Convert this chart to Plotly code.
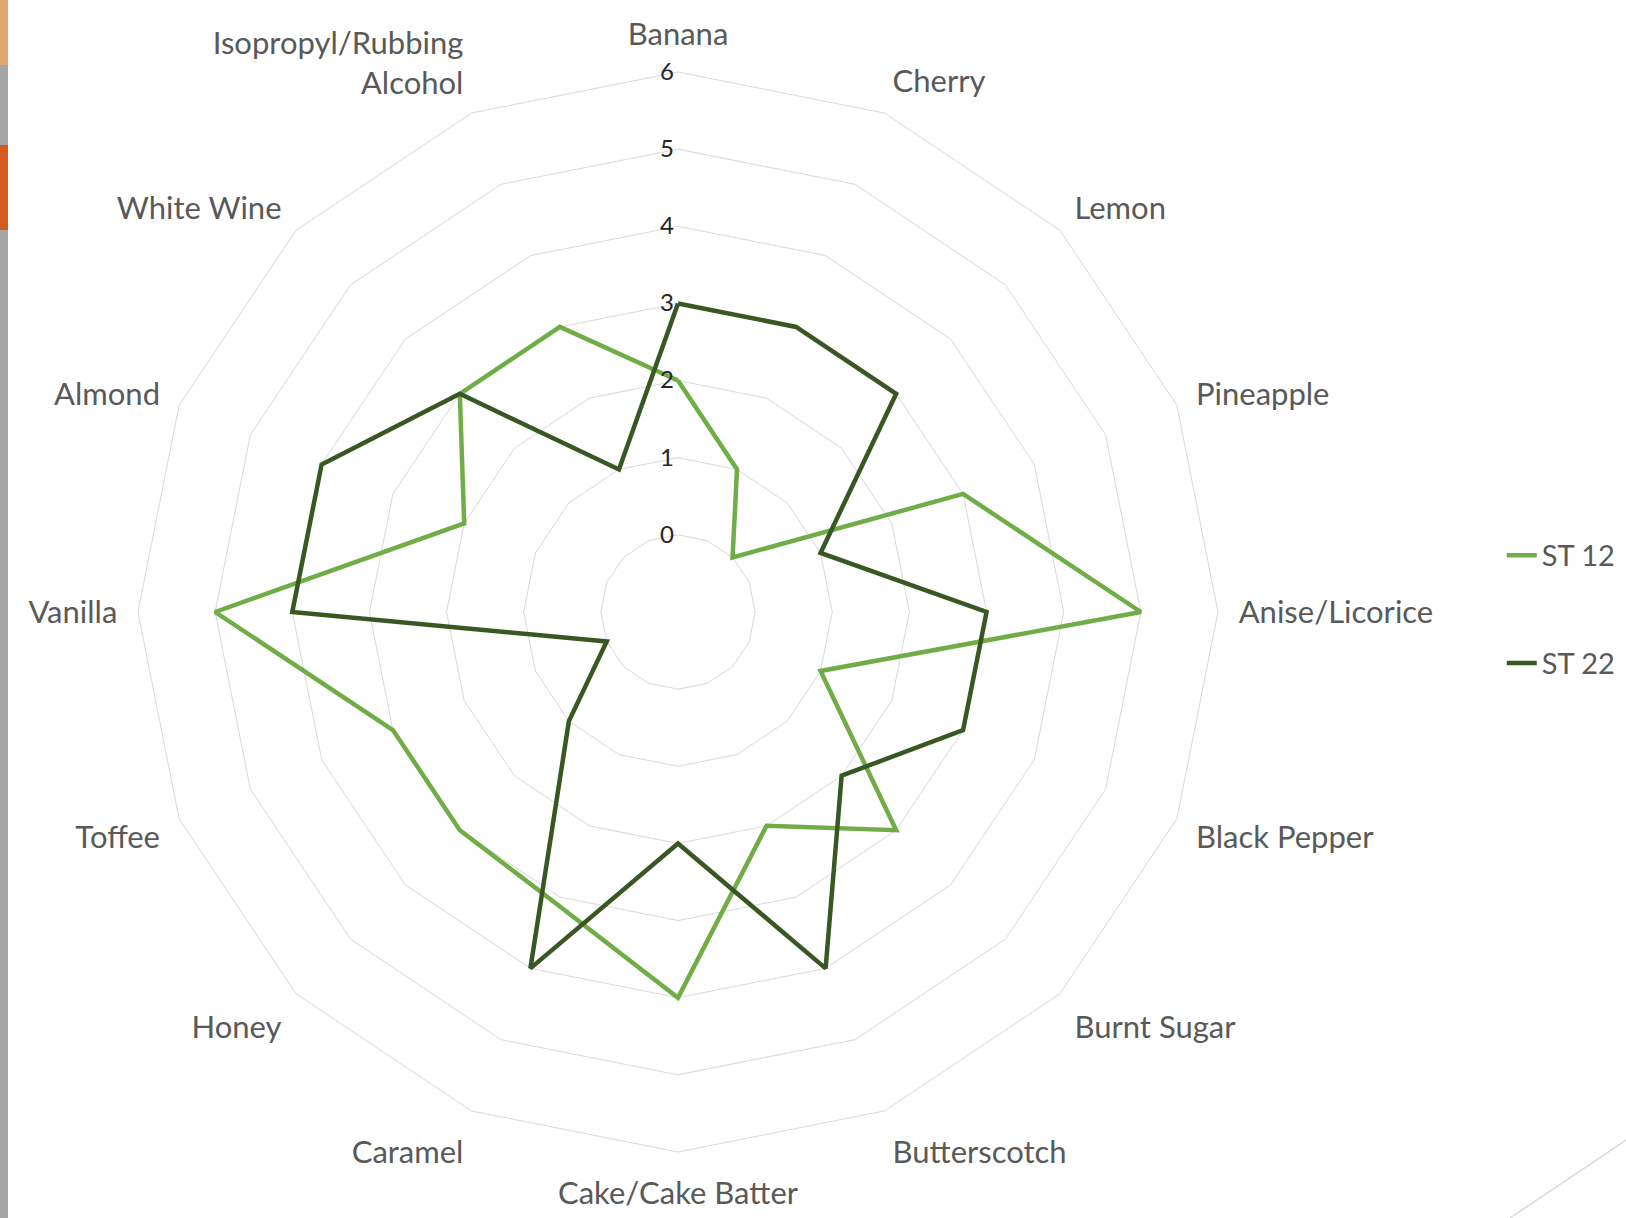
import plotly.graph_objects as go

categories = ["Banana", "Cherry", "Lemon", "Pineapple", "Anise/Licorice", "Black Pepper",
              "Burnt Sugar", "Butterscotch", "Cake/Cake Batter", "Caramel", "Honey", "Toffee",
              "Vanilla", "Almond", "White Wine", "Isopropyl/Rubbing<br>Alcohol"]
st12 = [2, 1, 0, 3, 5, 1, 3, 2, 4, 3.1, 3, 3, 5, 2, 3, 3]
st22 = [3, 3, 3, 1, 3, 3, 2, 4, 2, 4, 1, 0, 4, 4, 3, 1]
radial_ticks = [0, 1, 2, 3, 4, 5, 6]

W, H = 1626, 1218
cx, cy, R = 678, 612, 540

fig = go.Figure()
fig.add_trace(go.Scatterpolar(r=st12 + st12[:1], theta=categories + categories[:1], mode="lines",
                              name="ST 12", line=dict(color="#70ad47", width=4.5), legendgroup="a"))
fig.add_trace(go.Scatterpolar(r=st22 + st22[:1], theta=categories + categories[:1], mode="lines",
                              name="ST 22", line=dict(color="#385723", width=4.5), legendgroup="b"))

fig.update_layout(
    width=W, height=H,
    margin=dict(l=0, r=0, t=0, b=0),
    paper_bgcolor="white",
    font=dict(family="Lato, 'Open Sans', sans-serif"),
    polar=dict(
        domain=dict(x=[(cx - R) / W, (cx + R) / W], y=[(H - cy - R) / H, (H - cy + R) / H]),
        bgcolor="white",
        gridshape="linear",
        angularaxis=dict(direction="clockwise", rotation=90, showgrid=False,
                         showline=True, linecolor="#d9d9d9", linewidth=1,
                         ticks="outside", ticklen=14, tickcolor="rgba(0,0,0,0)",
                         tickfont=dict(size=31, color="#595959")),
        radialaxis=dict(range=[-1, 6], tickvals=radial_ticks, angle=90, side="counterclockwise",
                        tickangle=90,
                        showline=False, ticks="", gridcolor="#d9d9d9", gridwidth=1,
                        tickfont=dict(size=24, color="#262626")),
    ),
    legend=dict(x=0.9236, y=0.565, xanchor="left", yanchor="top",
                font=dict(size=29, color="#595959"), tracegroupgap=67,
                bgcolor="rgba(0,0,0,0)"),
    shapes=[
        dict(type="rect", xref="paper", yref="paper", x0=0, x1=8 / W, y0=0, y1=1,
             fillcolor="#a6a6a6", line=dict(width=0), layer="below"),
        dict(type="rect", xref="paper", yref="paper", x0=0, x1=8 / W, y0=1 - 65 / H, y1=1,
             fillcolor="#e0a870", line=dict(width=0), layer="below"),
        dict(type="rect", xref="paper", yref="paper", x0=0, x1=8 / W, y0=1 - 230 / H, y1=1 - 145 / H,
             fillcolor="#d45a20", line=dict(width=0), layer="below"),
        dict(type="line", xref="paper", yref="paper", x0=1510 / W, y0=0, x1=1, y1=78 / H,
             line=dict(color="#d9d9d9", width=1.5)),
    ],
)

fig.write_html("out.html", config={"displayModeBar": False},
               post_script="document.body.style.margin='0';")
